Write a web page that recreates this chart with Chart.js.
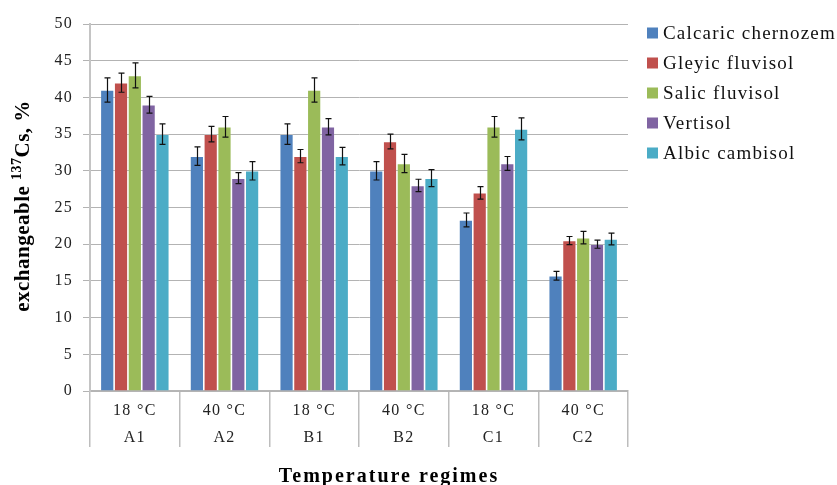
<!DOCTYPE html>
<html><head><meta charset="utf-8">
<script src="https://cdn.jsdelivr.net/npm/chart.js@4"></script>
<style>html,body{margin:0;padding:0;background:#fff}</style>
</head><body>
<canvas id="c" width="837" height="485"></canvas>
<script>
const temperatures = ['18 °C','40 °C','18 °C','40 °C','18 °C','40 °C'];
const regimes = ['A1','A2','B1','B2','C1','C2'];
const seriesNames = ['Calcaric chernozem','Gleyic fluvisol','Salic fluvisol','Vertisol','Albic cambisol'];
const seriesColors = ['#4F81BD','#C0504D','#9BBB59','#8064A2','#4BACC6'];
const calcaricChernozem = [41, 32, 35, 30, 23.3, 15.7];
const gleyicFluvisol    = [42, 35, 32, 34, 27, 20.5];
const salicFluvisol     = [43, 36, 41, 31, 36, 20.9];
const vertisol          = [39, 29, 36, 28, 31, 20];
const albicCambisol     = [35, 30, 32, 29, 35.7, 20.7];
const calcaricErr = [1.65, 1.25, 1.4, 1.25, 0.95, 0.6];
const gleyicErr   = [1.3, 1.05, 0.9, 1.0, 0.85, 0.55];
const salicErr    = [1.7, 1.4, 1.65, 1.25, 1.4, 0.85];
const vertisolErr = [1.15, 0.75, 1.1, 0.85, 0.95, 0.55];
const albicErr    = [1.4, 1.25, 1.2, 1.15, 1.5, 0.8];
const yTicks = [0,5,10,15,20,25,30,35,40,45,50];

const seriesValues = [calcaricChernozem, gleyicFluvisol, salicFluvisol, vertisol, albicCambisol];
const seriesErrors = [calcaricErr, gleyicErr, salicErr, vertisolErr, albicErr];
const labels = temperatures.map((t, i) => [t, regimes[i]]);

const spacingPlugin = {
  id: 'spacing',
  beforeLayout(chart){ chart.ctx.letterSpacing = '1.3px'; },
  beforeDraw(chart){ chart.ctx.letterSpacing = '1.3px'; }
};

const errorBarPlugin = {
  id: 'errorBars',
  afterDatasetsDraw(chart){
    const ctx = chart.ctx, y = chart.scales.y;
    ctx.save();
    ctx.strokeStyle = '#111';
    ctx.lineWidth = 1.2;
    chart.data.datasets.forEach((ds, di) => {
      const meta = chart.getDatasetMeta(di);
      meta.data.forEach((bar, i) => {
        const v = ds.data[i], e = seriesErrors[di][i];
        const top = y.getPixelForValue(v + e), bot = y.getPixelForValue(v - e);
        const x = Math.round(bar.x) + 0.5;
        ctx.beginPath();
        ctx.moveTo(x, top); ctx.lineTo(x, bot);
        ctx.moveTo(x - 3, top); ctx.lineTo(x + 3, top);
        ctx.moveTo(x - 3, bot); ctx.lineTo(x + 3, bot);
        ctx.stroke();
      });
    });
    ctx.restore();
  }
};

const textPlugin = {
  id: 'texts',
  afterDraw(chart){
    const ctx = chart.ctx;
    ctx.save();
    // legend
    ctx.letterSpacing = '1.2px';
    ctx.font = '19px "Liberation Serif", "Times New Roman", serif';
    ctx.textBaseline = 'middle';
    ctx.textAlign = 'left';
    chart.data.datasets.forEach((ds, i) => {
      const cy = 33 + i * 30;
      ctx.fillStyle = ds.backgroundColor;
      ctx.fillRect(647, cy - 5.5, 11, 11);
      ctx.fillStyle = '#111';
      ctx.fillText(ds.label, 663, cy + 1);
    });
    // x title
    ctx.letterSpacing = '2px';
    ctx.font = 'bold 20px "Liberation Serif", "Times New Roman", serif';
    ctx.textAlign = 'center';
    ctx.fillStyle = '#000';
    ctx.fillText('Temperature regimes', 389, 477);
    // y title with superscript
    ctx.letterSpacing = '0.5px';
    const big = 'bold 21px "Liberation Serif", "Times New Roman", serif';
    const small = 'bold 14px "Liberation Serif", "Times New Roman", serif';
    const parts = [['exchangeable ', big, 0], ['137', small, -7], ['Cs, %', big, 0]];
    let total = 0;
    parts.forEach(p => { ctx.font = p[1]; p.push(ctx.measureText(p[0]).width); total += p[3]; });
    ctx.translate(24, 206);
    ctx.rotate(-Math.PI / 2);
    ctx.textAlign = 'left';
    let x = -total / 2;
    parts.forEach(p => { ctx.font = p[1]; ctx.fillText(p[0], x, p[2]); x += p[3]; });
    ctx.restore();
  }
};

new Chart(document.getElementById('c'), {
  type: 'bar',
  data: {
    labels: labels,
    datasets: seriesNames.map((n, i) => ({
      label: n,
      data: seriesValues[i],
      backgroundColor: seriesColors[i],
      borderColor: 'rgba(255,255,255,0.15)',
      borderWidth: 0.8,
      categoryPercentage: 0.77,
      barPercentage: 1.0
    }))
  },
  options: {
    responsive: false,
    devicePixelRatio: 1,
    animation: false,
    layout: { padding: { top: 24, right: 209, bottom: 0, left: 0 } },
    plugins: { legend: { display: false }, tooltip: { enabled: false } },
    scales: {
      x: {
        grid: { offset: true, drawOnChartArea: false, drawTicks: true, tickLength: 56, color: '#bdbdbd', lineWidth: 1.5 },
        border: { color: '#b5b5b5', width: 1.5 },
        ticks: { padding: -50, color: '#222', maxRotation: 0, autoSkip: false,
                 font: { family: '"Liberation Serif", "Times New Roman", serif', size: 16, lineHeight: '27px' } },
        afterFit(scale){ scale.height = 94; }
      },
      y: {
        min: 0, max: 50,
        afterBuildTicks(scale){ scale.ticks = yTicks.map(v => ({ value: v })); },
        grid: { color: '#b3b3b3', lineWidth: 1, tickLength: 7 },
        border: { color: '#c4c4c4', width: 2 },
        ticks: { padding: 10, color: '#222',
                 font: { family: '"Liberation Serif", "Times New Roman", serif', size: 16 } },
        afterFit(scale){ scale.width = 90; }
      }
    }
  },
  plugins: [spacingPlugin, errorBarPlugin, textPlugin]
});
</script>
</body></html>
